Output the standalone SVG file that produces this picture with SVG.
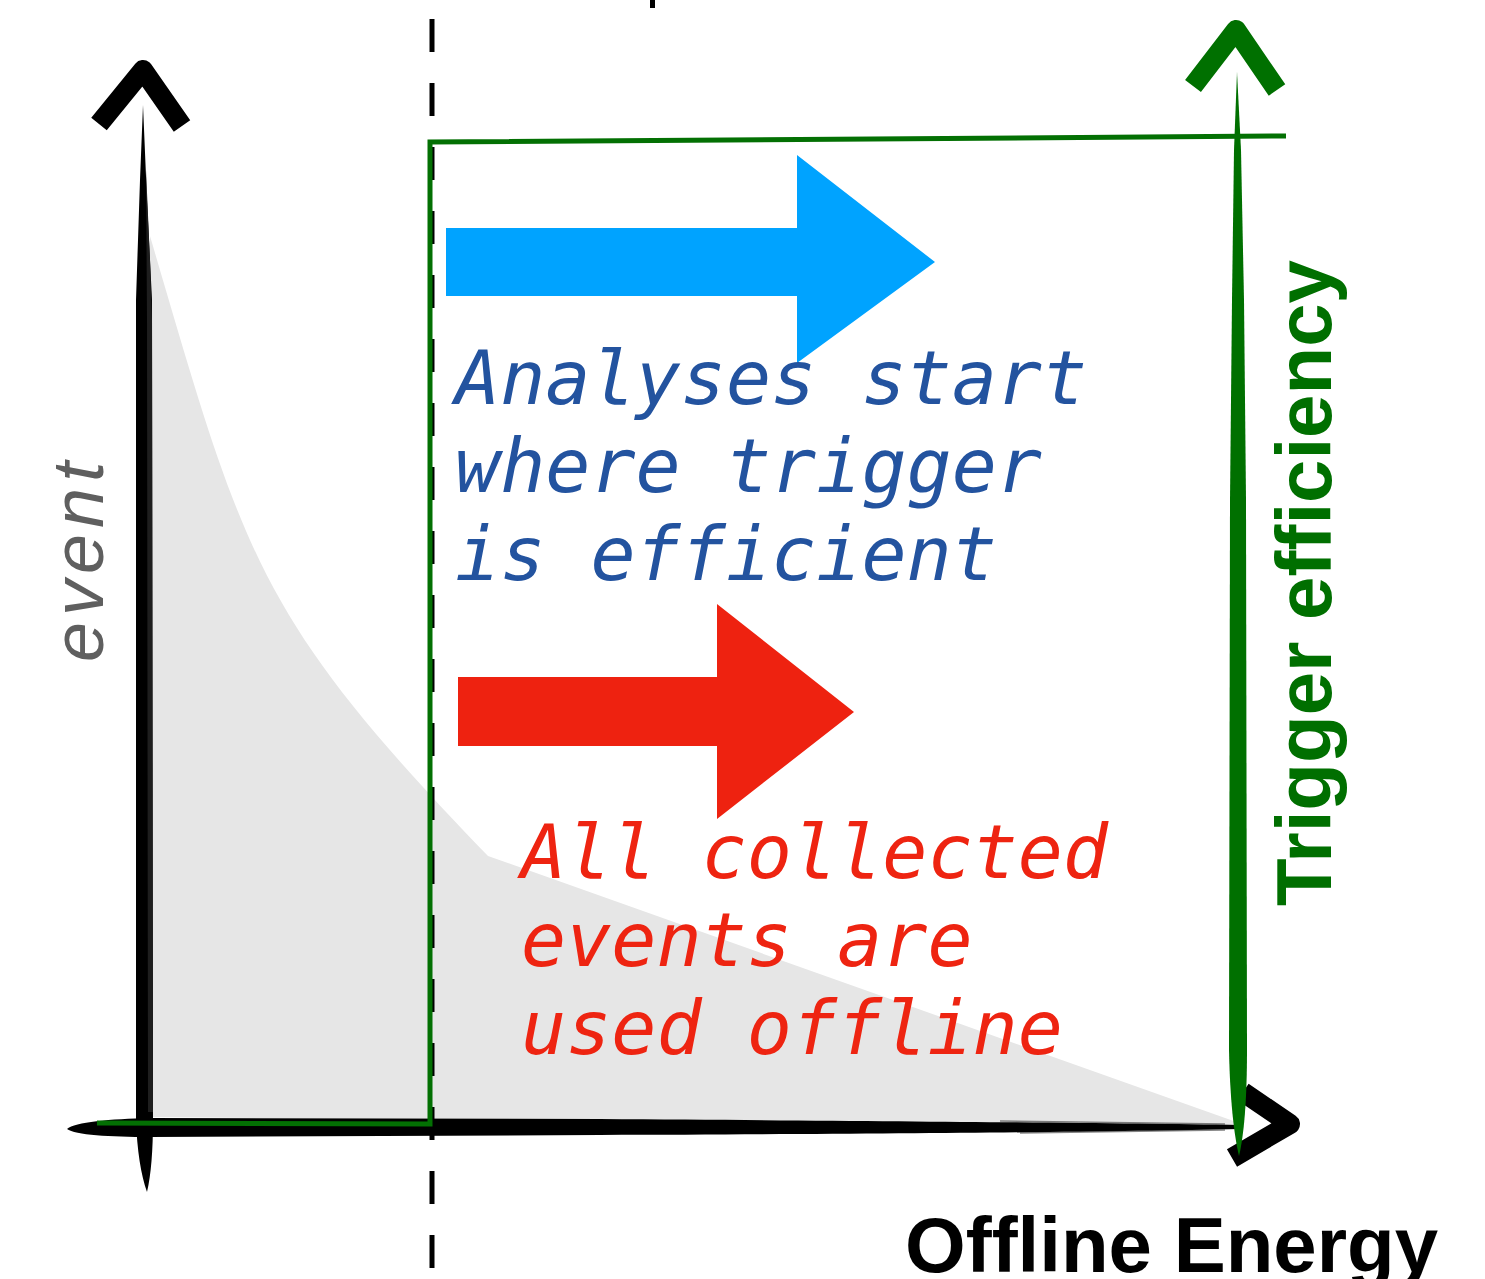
<svg xmlns="http://www.w3.org/2000/svg" width="1485" height="1279" viewBox="0 0 1485 1279">
<style>
.mono{font-family:"DejaVu Sans Mono","Liberation Mono",monospace;font-style:italic;font-size:75px}
.blue{fill:#23539f}
.red{fill:#ee2411}
.bold{font-family:"Liberation Sans",Arial,sans-serif;font-weight:bold;font-size:78px}
.head{fill:none;stroke-width:20;stroke-linejoin:round;stroke-linecap:butt}
.streak{fill:none;stroke-width:1.5;stroke-opacity:0.6}
</style>
<rect x="0" y="0" width="1485" height="1279" fill="#ffffff"/>

<g id="distribution">
<path d="M150,236 C244,556 256,616 488,856 L1242,1124 L1242,1128 L150,1117 Z" fill="#e6e6e6"/>
</g>

<g id="threshold">
<line x1="432" y1="19" x2="432" y2="1279" stroke="#000" stroke-width="5" stroke-dasharray="33 31"/>
<rect x="650" y="0" width="5" height="8" fill="#000"/>
</g>

<g id="y-axis">
<path d="M143,105 L147,200 L150,260 L152,300 L153,1120 C153,1150 151,1175 147,1192 C141,1175 137,1150 136,1120 L136,300 L138,240 L140,180 Z" fill="#000"/>
<path d="M146,170 L150,260 L152,320 L153,1112 L148,1112 L147,320 Z" fill="#1e1e1e"/>
<polyline class="head" stroke="#000" points="99,124 143,70 182,126"/>
</g>

<g id="x-axis">
<path d="M67,1129 C75,1122 110,1119 150,1118 L600,1119 C900,1121 1100,1123 1240,1125 L1240,1129 C1100,1132 900,1134 600,1135 L150,1137 C110,1137 75,1135 67,1129 Z" fill="#000"/>
<path class="streak" stroke="#333" d="M1000,1121 L1225,1124"/>
<path class="streak" stroke="#333" d="M1020,1133 L1225,1130"/>
<polyline class="head" stroke="#000" points="1243,1092 1290,1124 1232,1158"/>
</g>

<g id="efficiency-axis">
<path d="M1237,72 L1241,150 L1244,300 L1246,500 L1247,1050 C1247,1100 1244,1135 1239,1156 C1234,1135 1230,1100 1229,1050 L1230,500 L1232,300 L1234,150 Z" fill="#007000"/>
<polyline class="head" stroke="#007000" points="1193,86 1236,30 1277,90"/>
</g>

<g id="efficiency-curve">
<path d="M97,1123 L430,1124 L430,142 L1286,136" fill="none" stroke="#037003" stroke-width="5"/>
</g>

<g id="blue-arrow">
<polygon points="446,228 797,228 797,155 935,262 797,363 797,296 446,296" fill="#00a3ff"/>
</g>

<g id="red-arrow">
<polygon points="458,677 717,677 717,604 854,712 717,819 717,746 458,746" fill="#ee2210"/>
</g>

<g id="label-analyses">
<text class="mono blue" x="455" y="404">Analyses start</text>
<text class="mono blue" x="455" y="492">where trigger</text>
<text class="mono blue" x="455" y="580">is efficient</text>
</g>

<g id="label-collected">
<text class="mono red" x="521" y="878">All collected</text>
<text class="mono red" x="521" y="966">events are</text>
<text class="mono red" x="521" y="1054">used offline</text>
</g>

<g id="label-event">
<text transform="translate(103,662) rotate(-90)" x="0" y="0" font-family="'Liberation Sans',Arial,sans-serif" font-style="italic" font-size="72" letter-spacing="6" fill="#5f5f5f">event</text>
</g>

<g id="label-efficiency">
<text class="bold" transform="translate(1331,906) rotate(-90)" x="0" y="0" fill="#006f00">Trigger efficiency</text>
</g>

<g id="label-energy">
<text class="bold" x="905" y="1272" fill="#000">Offline Energy</text>
</g>
</svg>
